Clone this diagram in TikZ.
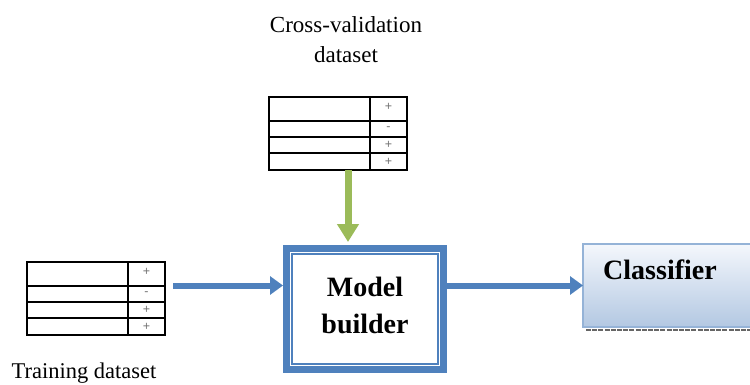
\documentclass[tikz,border=0pt]{standalone}
\usepackage{fontspec}
\setmainfont{Liberation Serif}
\newfontfamily\signfont{Liberation Sans}
\usetikzlibrary{arrows.meta}
\definecolor{mblue}{HTML}{4F81BD}
\definecolor{mgreen}{HTML}{9BBB59}
\definecolor{cborder}{HTML}{95B3D7}
\definecolor{ctop}{HTML}{F4F7FC}
\definecolor{cbot}{HTML}{B3C8E2}
\newcommand\datatable[2]{%
  \node[tablebox] (#1) at #2 {};
  \foreach \yy in {24,40,56}
    \draw[line width=1.8pt] ([shift={(0,\yy)}]#1.north west) -- ([shift={(138,\yy)}]#1.north west);
  \draw[line width=1.8pt] ([shift={(101,0)}]#1.north west) -- ([shift={(101,0)}]#1.south west);
  \node[signtxt] (#1-s1) at ([shift={(119.5,10)}]#1.north west) {+};
  \node[signtxt] (#1-s2) at ([shift={(119.5,32)}]#1.north west) {-};
  \node[signtxt] (#1-s3) at ([shift={(119.5,48)}]#1.north west) {+};
  \node[signtxt] (#1-s4) at ([shift={(119.5,64.5)}]#1.north west) {+};
}
\begin{document}
\begin{tikzpicture}[x=1pt,y=-1pt,
  tablebox/.style={draw=black,line width=1.8pt,minimum width=138pt,minimum height=73pt,inner sep=0pt,outer sep=0pt,anchor=north west},
  signtxt/.style={font=\signfont\fontsize{12.5}{13}\selectfont,text=black!55,inner sep=0pt},
  lbltext/.style={font=\fontsize{23}{30}\selectfont,align=center,inner sep=0pt},
  bigtext/.style={font=\bfseries\fontsize{28}{37}\selectfont,align=center,inner sep=0pt},
  bluearrow/.style={draw=mblue,fill=mblue,line width=6pt,-{Triangle[length=13pt,width=18pt]}},
  greenarrow/.style={draw=mgreen,fill=mgreen,line width=7pt,-{Triangle[length=18pt,width=21pt]}},
  ]
\useasboundingbox (0,0) rectangle (750,385);

% labels
\node[lbltext] (cvlabel) at (346,40) {Cross-validation\\dataset};
\node[lbltext,font=\fontsize{22.5}{30}\selectfont] (trlabel) at (84,373) {Training dataset};

% tables
\datatable{cv}{(269,97)}
\datatable{tr}{(27,262)}

% model builder
\node[minimum width=164pt,minimum height=128pt,inner sep=0pt,outer sep=0pt] (mb) at (365,309) {};
\draw[mblue,line width=7pt] ([shift={(3.5,3.5)}]mb.north west) rectangle ([shift={(-3.5,-3.5)}]mb.south east);
\draw[mblue,line width=2pt] ([shift={(9,9)}]mb.north west) rectangle ([shift={(-9,-9)}]mb.south east);
\node[bigtext] (mbtext) at (365,305) {Model\\builder};

% classifier
\node[minimum width=176pt,minimum height=83pt,anchor=north west,draw=cborder,line width=2.2pt,
      top color=ctop,bottom color=cbot,inner sep=0pt,outer sep=0pt] (cl) at (583,244) {};
\draw[black!60,line width=2.5pt,dash pattern=on 5pt off 1.2pt] ([shift={(3,3)}]cl.south west) -- ([shift={(0,3)}]cl.south east);
\node[bigtext] (cltext) at (660,270) {Classifier};

% arrows
\draw[bluearrow] ([xshift=8pt]tr.east |- cl.west) -- (mb.west |- cl.west);
\draw[bluearrow] (mb.east |- cl.west) -- (cl.west);
\draw[greenarrow,shorten >=3pt] ([xshift=10pt]cv.south) -- ([xshift=-17pt]mb.north);
\end{tikzpicture}
\end{document}
